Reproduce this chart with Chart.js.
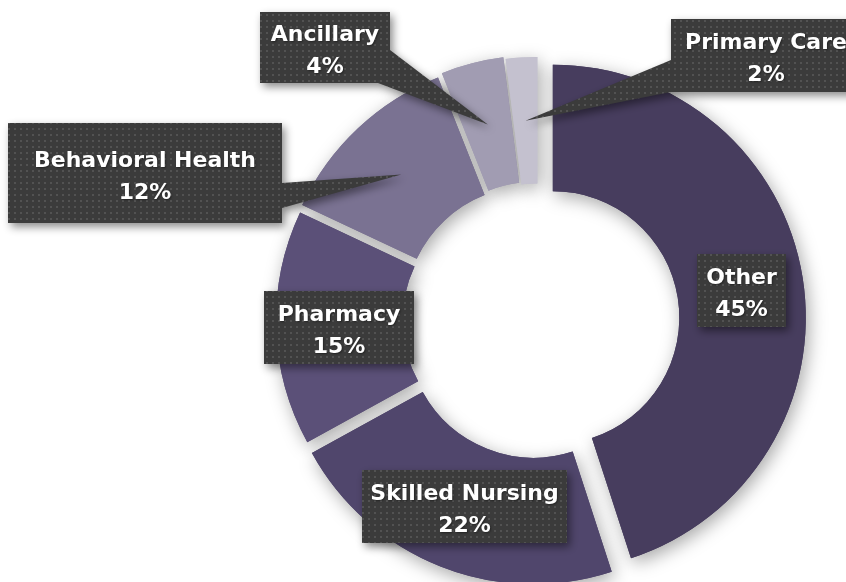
<!DOCTYPE html>
<html>
<head>
<meta charset="utf-8">
<script src="https://cdn.jsdelivr.net/npm/chart.js@4.4.1/dist/chart.umd.min.js"></script>
<style>
  html, body { margin: 0; padding: 0; background: #fff; }
</style>
</head>
<body>
<canvas id="chart" width="846" height="582"></canvas>
<script>
const categories = ['Other', 'Skilled Nursing', 'Pharmacy', 'Behavioral Health', 'Ancillary', 'Primary Care'];
const shares = [45, 22, 15, 12, 4, 2];
const sliceColors = ['#473d5e', '#50466c', '#5b5078', '#7a7292', '#a19cb2', '#c4c1cf'];
const explode = [15, 12, 9, 10, 12, 10];

// callout boxes, same order as categories; base = where the pointer leaves the box
const boxes = [
  { x: 697, y: 254, w: 89, h: 73 },
  { x: 362, y: 470, w: 205, h: 73 },
  { x: 264, y: 291, w: 150, h: 73 },
  { x: 8, y: 123, w: 274, h: 100, base: [[282, 183], [282, 208]] },
  { x: 260, y: 12, w: 130, h: 71, base: [[390, 50], [378, 83]] },
  { x: 671, y: 19, w: 190, h: 73, base: [[671, 60], [671, 92]] }
];

// pull each slice out along its middle angle (chart.js offset also grows the radius)
const explodeSlices = {
  id: 'explodeSlices',
  beforeDatasetsDraw(chart) {
    const a = chart.chartArea;
    const cx = (a.left + a.right) / 2;
    const cy = (a.top + a.bottom) / 2;
    chart.getDatasetMeta(0).data.forEach((arc, i) => {
      const mid = (arc.startAngle + arc.endAngle) / 2;
      arc.x = cx + Math.cos(mid) * explode[i];
      arc.y = cy + Math.sin(mid) * explode[i];
    });
  }
};

const ringShadow = {
  id: 'ringShadow',
  beforeDatasetsDraw(chart) {
    const ctx = chart.ctx;
    ctx.save();
    ctx.shadowColor = 'rgba(0,0,0,0.35)';
    ctx.shadowBlur = 18;
    ctx.shadowOffsetX = 3;
    ctx.shadowOffsetY = 5;
    chart.getDatasetMeta(0).data.forEach(arc => arc.draw(ctx));
    ctx.restore();
  }
};

function makePattern(ctx) {
  const tile = document.createElement('canvas');
  tile.width = 6; tile.height = 6;
  const t = tile.getContext('2d');
  t.fillStyle = '#3b3b3b'; t.fillRect(0, 0, 6, 6);
  t.fillStyle = '#525252'; t.fillRect(2, 2, 2, 2);
  return ctx.createPattern(tile, 'repeat');
}

const callouts = {
  id: 'callouts',
  afterDatasetsDraw(chart) {
    const ctx = chart.ctx;
    const arcs = chart.getDatasetMeta(0).data;
    const pattern = makePattern(ctx);
    boxes.forEach((b, i) => {
      ctx.save();
      ctx.beginPath();
      ctx.rect(b.x, b.y, b.w, b.h);
      if (b.base) {
        const arc = arcs[i];
        const mid = (arc.startAngle + arc.endAngle) / 2;
        const r = (arc.innerRadius + arc.outerRadius) / 2;
        const p = [b.base[0], b.base[1], [arc.x + Math.cos(mid) * r, arc.y + Math.sin(mid) * r]];
        // keep same winding as rect (clockwise on screen)
        const area = (p[1][0] - p[0][0]) * (p[2][1] - p[0][1]) - (p[1][1] - p[0][1]) * (p[2][0] - p[0][0]);
        if (area < 0) p.reverse();
        ctx.moveTo(p[0][0], p[0][1]);
        ctx.lineTo(p[1][0], p[1][1]);
        ctx.lineTo(p[2][0], p[2][1]);
        ctx.closePath();
      }
      ctx.shadowColor = 'rgba(0,0,0,0.45)';
      ctx.shadowBlur = 8;
      ctx.shadowOffsetX = 3;
      ctx.shadowOffsetY = 4;
      ctx.fillStyle = pattern;
      ctx.fill();
      ctx.restore();

      const cx = b.x + b.w / 2;
      const cy = b.y + b.h / 2;
      ctx.save();
      ctx.fillStyle = '#ffffff';
      ctx.font = 'bold 22px "DejaVu Sans"';
      ctx.textAlign = 'center';
      ctx.textBaseline = 'middle';
      ctx.shadowColor = 'rgba(0,0,0,0.4)';
      ctx.shadowBlur = 2;
      ctx.shadowOffsetX = 1;
      ctx.shadowOffsetY = 1;
      ctx.fillText(categories[i], cx, cy - 12);
      ctx.fillText(shares[i] + '%', cx, cy + 20);
      ctx.restore();
    });
  }
};

const ctx = document.getElementById('chart').getContext('2d');
new Chart(ctx, {
  type: 'doughnut',
  data: {
    labels: categories,
    datasets: [{
      data: shares,
      backgroundColor: sliceColors,
      borderWidth: 0
    }]
  },
  options: {
    responsive: false,
    animation: false,
    radius: 253,
    cutout: '50%',
    layout: { padding: { left: 230, right: 0, top: 58, bottom: 0 } },
    plugins: {
      legend: { display: false },
      tooltip: { enabled: false }
    }
  },
  plugins: [explodeSlices, ringShadow, callouts]
});
</script>
</body>
</html>
